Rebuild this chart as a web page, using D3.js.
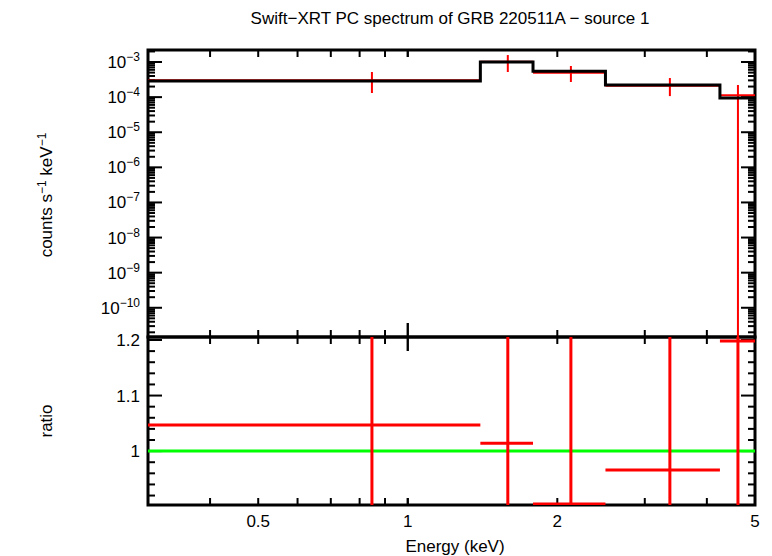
<!DOCTYPE html>
<meta charset="utf-8">
<title>Swift-XRT spectrum</title>
<style>
body { margin: 0; background: #fff; }
text { font-family: "Liberation Sans", Arial, sans-serif; fill: #000; }
</style>
<body>
<script src="https://cdn.jsdelivr.net/npm/d3@7"></script>
<script>

// Bins: energy edges (keV), model and data (counts/s/keV), ratio
var binLo = [0.3, 1.40, 1.787, 2.50, 4.25];
var binHi = [1.40, 1.787, 2.50, 4.25, 5.0];
var binMid = [0.847, 1.59, 2.13, 3.37, 4.62];
var model = [2.9e-4, 1.0e-3, 5.5e-4, 2.2e-4, 9.4e-5];
var ratio = [1.047, 1.014, 0.905, 0.966, 1.198];
var errHi = [5.2e-4, 1.58e-3, 7.7e-4, 3.5e-4, 2.2e-4];
var errLo = [1.31e-4, 5.2e-4, 2.7e-4, 1.07e-4, 1e-12];
var xTicks = [0.5, 1, 2, 5];
var yDecades = [-3, -4, -5, -6, -7, -8, -9, -10];
var ratioTicks = [1, 1.1, 1.2];

var W = 772, H = 556;
var svg = d3.select("body").append("svg").attr("width", W).attr("height", H);

var x = d3.scaleLog().domain([0.3, 5]).range([148, 755]);
var yTop = d3.scaleLog().domain([1.47e-11, 2.2e-3]).range([337, 50]);
var yBot = d3.scaleLinear().domain([0.903, 1.2054]).range([505, 337]);

// minor x ticks
var xMinor = [];
for (var v = 0.3; v < 1; v += 0.1) xMinor.push(+v.toFixed(1));
for (var v = 1; v <= 5; v++) xMinor.push(v);

function xTickMarks(y0, dir, major) {
  svg.append("g").selectAll("line").data(xMinor).join("line")
    .attr("x1", d => x(d)).attr("x2", d => x(d))
    .attr("y1", y0).attr("y2", d => y0 + dir * (d === 1 && major ? 14 : 7))
    .attr("stroke", "#000").attr("stroke-width", 2);
}
xTickMarks(50, 1, false);
xTickMarks(337, 1, true);
xTickMarks(337, -1, true);
xTickMarks(505, -1, false);

// top panel y ticks
var yMinor = [];
for (var e = -11; e <= -3; e++) for (var m = 1; m < 10; m++) {
  var val = m * Math.pow(10, e);
  if (val >= 1.47e-11 && val <= 2.2e-3) yMinor.push({v: val, major: m === 1});
}
[148, 755].forEach(function(x0, i) {
  var dir = i === 0 ? 1 : -1;
  svg.append("g").selectAll("line").data(yMinor).join("line")
    .attr("x1", x0).attr("x2", d => x0 + dir * (d.major ? 14 : 7))
    .attr("y1", d => yTop(d.v)).attr("y2", d => yTop(d.v))
    .attr("stroke", "#000").attr("stroke-width", 2);
});
var yl = svg.append("g").selectAll("text").data(yDecades).join("text")
  .attr("x", 140).attr("y", d => yTop(Math.pow(10, d)) + 6)
  .attr("text-anchor", "end").attr("font-size", 17);
yl.append("tspan").text("10");
yl.append("tspan").attr("dy", -7).attr("font-size", 12).text(d => "\u2212" + (-d));

// bottom panel y ticks
var rMinor = d3.range(0.92, 1.205, 0.02).map(d => +d.toFixed(2));
[148, 755].forEach(function(x0, i) {
  var dir = i === 0 ? 1 : -1;
  svg.append("g").selectAll("line").data(rMinor).join("line")
    .attr("x1", x0).attr("x2", d => x0 + dir * ([1, 1.1, 1.2].indexOf(d) >= 0 ? 14 : 7))
    .attr("y1", d => yBot(d)).attr("y2", d => yBot(d))
    .attr("stroke", "#000").attr("stroke-width", 2);
});
svg.append("g").selectAll("text").data(ratioTicks).join("text")
  .attr("x", 140).attr("y", d => yBot(d) + 6).attr("text-anchor", "end")
  .attr("font-size", 17).text(d => d);

svg.append("g").selectAll("text").data(xTicks).join("text")
  .attr("x", d => x(d)).attr("y", 527).attr("text-anchor", "middle")
  .attr("font-size", 17).text(d => d);

// frames
svg.append("rect").attr("x", 148).attr("y", 50).attr("width", 607).attr("height", 287)
  .attr("fill", "none").attr("stroke", "#000").attr("stroke-width", 3);
svg.append("rect").attr("x", 148).attr("y", 337).attr("width", 607).attr("height", 168)
  .attr("fill", "none").attr("stroke", "#000").attr("stroke-width", 3);

var idx = d3.range(binLo.length);
var topPanel = svg.append("g");
topPanel.append("clipPath").attr("id", "ct").append("rect")
  .attr("x", 148).attr("y", 50).attr("width", 607).attr("height", 287);
var tg = topPanel.append("g").attr("clip-path", "url(#ct)");

// data (red) in top panel
tg.selectAll(".dh").data(idx).join("line")
  .attr("x1", i => x(binLo[i])).attr("x2", i => x(binHi[i]))
  .attr("y1", i => yTop(model[i] * ratio[i])).attr("y2", i => yTop(model[i] * ratio[i]))
  .attr("stroke", "red").attr("stroke-width", 2);
tg.selectAll(".dv").data(idx).join("line")
  .attr("x1", i => x(binMid[i])).attr("x2", i => x(binMid[i]))
  .attr("y1", i => yTop(errHi[i])).attr("y2", i => yTop(errLo[i]))
  .attr("stroke", "red").attr("stroke-width", 2);

// model step line
var stepPts = [];
idx.forEach(function(i) { stepPts.push([binLo[i], model[i]], [binHi[i], model[i]]); });
tg.append("path").datum(stepPts)
  .attr("d", d3.line().x(d => x(d[0])).y(d => yTop(d[1])))
  .attr("fill", "none").attr("stroke", "#000").attr("stroke-width", 3);

// bottom panel
var botPanel = svg.append("g");
botPanel.append("clipPath").attr("id", "cb").append("rect")
  .attr("x", 148).attr("y", 337).attr("width", 607).attr("height", 168);
var bg = botPanel.append("g").attr("clip-path", "url(#cb)");
bg.append("line").attr("x1", 148).attr("x2", 755).attr("y1", yBot(1)).attr("y2", yBot(1))
  .attr("stroke", "#00ff00").attr("stroke-width", 3);
bg.selectAll(".rh").data(idx).join("line")
  .attr("x1", i => x(binLo[i])).attr("x2", i => x(binHi[i]))
  .attr("y1", i => yBot(ratio[i])).attr("y2", i => yBot(ratio[i]))
  .attr("stroke", "red").attr("stroke-width", 3);
bg.selectAll(".rv").data(idx).join("line")
  .attr("x1", i => x(binMid[i])).attr("x2", i => x(binMid[i]))
  .attr("y1", 337).attr("y2", 505)
  .attr("stroke", "red").attr("stroke-width", 3);

// labels
svg.append("text").attr("x", 450).attr("y", 24).attr("text-anchor", "middle")
  .attr("font-size", 17).text("Swift\u2212XRT PC spectrum of GRB 220511A \u2212 source 1");
svg.append("text").attr("x", 455).attr("y", 552).attr("text-anchor", "middle")
  .attr("font-size", 17).text("Energy (keV)");
var yt = svg.append("text").attr("transform", "translate(52,195) rotate(-90)")
  .attr("text-anchor", "middle").attr("font-size", 17);
yt.append("tspan").text("counts s");
yt.append("tspan").attr("dy", -6).attr("font-size", 12).text("\u22121");
yt.append("tspan").attr("dy", 6).text(" keV");
yt.append("tspan").attr("dy", -6).attr("font-size", 12).text("\u22121");
svg.append("text").attr("transform", "translate(52,421) rotate(-90)")
  .attr("text-anchor", "middle").attr("font-size", 17).text("ratio");

</script>
</body>
